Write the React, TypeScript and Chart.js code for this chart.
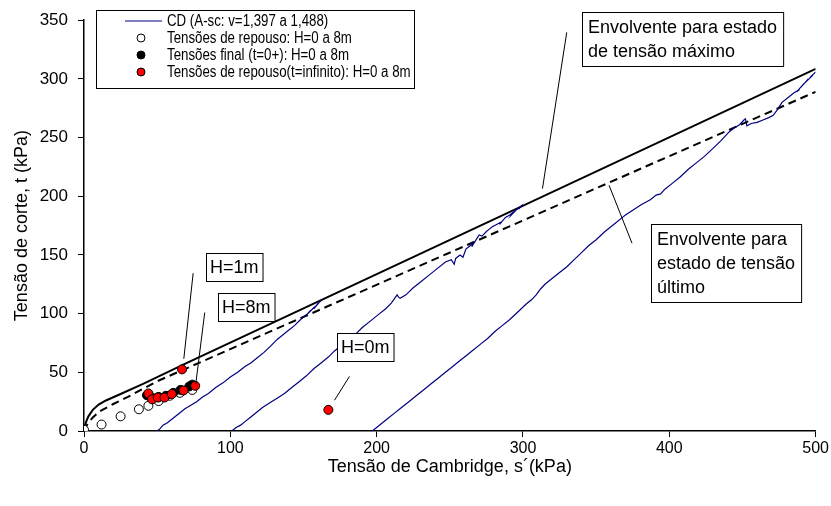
import React, { useEffect, useRef } from "react";
import { Chart, registerables } from "chart.js";

Chart.register(...registerables);

const FONT = "'Liberation Sans', Arial, Helvetica, sans-serif";

// ---- axis ticks ----
const xTicks = [0, 100, 200, 300, 400, 500];
const yTicks = [0, 50, 100, 150, 200, 250, 300, 350];

// ---- envelopes ----
const envMaxS = [0, 0.5, 1.5, 3, 6, 10, 15, 25, 40, 70, 500];
const envMaxT = [0, 4, 8, 12.5, 18, 22.5, 26, 31.5, 40, 57.8, 308.5];
const envUltS = [0, 1, 3, 6, 11, 20, 30, 50, 500];
const envUltT = [0, 3, 7, 11.5, 17, 23, 29, 42.4, 289];

// ---- CD test paths (s', t) ----
const cdPath1: [number, number][] = [
  [50, 0], [52, 2], [54, 5], [57, 7], [60, 10], [63, 13], [66, 16], [69, 19], [73, 22], [77, 25],
  [81, 29], [85, 32], [90, 37], [95, 41], [100, 46], [105, 50], [110, 55], [114, 58], [118, 62],
  [123, 67], [128, 73], [132, 78], [136, 82], [140, 86], [144, 90], [148, 95], [152, 99],
  [155, 103], [153, 100], [157, 105], [159, 107], [157, 104], [160, 109], [162, 111],
];
const cdPath2: [number, number][] = [
  [101, 0], [104, 3], [107, 5], [110, 8], [114, 12], [118, 16], [122, 20], [127, 24], [132, 28],
  [137, 32], [142, 37], [147, 42], [152, 47], [157, 53], [162, 58], [167, 63], [171, 68],
  [176, 73], [181, 78], [186, 83], [190, 88], [195, 93], [199, 97], [202, 100], [206, 104],
  [210, 109], [214, 116], [215, 114], [216, 113], [220, 116], [225, 122], [230, 127], [236, 133],
  [242, 139], [247, 144], [251, 146], [253, 142], [254, 147], [257, 150], [259, 148], [261, 155],
  [263, 157], [266, 160], [265, 157], [268, 163], [270, 167], [272, 166], [275, 170], [277, 172],
  [279, 174], [282, 176], [285, 178], [284, 176], [288, 182], [291, 184], [293, 186], [292, 184],
  [296, 189], [298, 191], [297, 189], [300, 193],
];
const cdPath3: [number, number][] = [
  [197, 0], [200, 3], [204, 7], [208, 11], [212, 15], [217, 20], [222, 25], [227, 30], [232, 35],
  [237, 40], [242, 45], [247, 50], [252, 55], [257, 60], [262, 65], [266, 69], [271, 74],
  [276, 79], [281, 85], [286, 90], [291, 95], [297, 102], [302, 108], [306, 112], [309, 116],
  [312, 121], [315, 125], [319, 129], [322, 132], [325, 135], [330, 140], [335, 146], [340, 152],
  [345, 158], [350, 163], [356, 170], [362, 176], [368, 182], [370, 184], [375, 188], [381, 193],
  [387, 197], [391, 201], [394, 202], [397, 206], [402, 211], [407, 216], [413, 223], [418, 228],
  [424, 234], [430, 241], [435, 247], [438, 251], [441, 255], [444, 258], [448, 261], [451, 265],
  [452, 266], [453, 260], [456, 262], [460, 263], [464, 265], [468, 267], [471, 269], [474, 274],
  [477, 280], [481, 284], [485, 288], [489, 291], [487, 289], [492, 296], [490, 293], [495, 300],
  [493, 297], [498, 303], [496, 301], [500, 306],
];

// ---- stress points ----
const restS = [0, 12, 25, 37.5, 44, 51, 58.5, 65.5, 74];
const restT = [1, 5.5, 12.5, 18.5, 21.5, 25.5, 30, 32.5, 35];
const finalS = [43, 47, 51, 56, 61, 66, 72, 74];
const finalT = [30.5, 28, 29, 30, 32.5, 35, 38, 39.5];
const infS = [44, 46.5, 50.5, 55, 60, 68, 76, 67, 167];
const infT = [32, 27, 28.5, 28.5, 31.5, 34.5, 38.5, 52.5, 18];

// ---- labels ----
const cdLabel = "CD (A-sc: v=1,397 a 1,488)";
const restLabel = "Tensões de repouso: H=0 a 8m";
const finalLabel = "Tensões final (t=0+): H=0 a 8m";
const infLabel = "Tensões de repouso(t=infinito): H=0 a 8m";
const xTitle = "Tensão de Cambridge, s´(kPa)";
const yTitle = "Tensão de corte, t (kPa)";

// ---- annotations: box top-left (data), leader from/to (data) ----
const annotations = [
  { lines: ["Envolvente para estado", "de tensão máximo"], box: [340.3, 356.8], from: [329.9, 339.6], to: [313.3, 206.5] },
  { lines: ["Envolvente para", "estado de tensão", "último"], box: [387.5, 176.7], from: [358.8, 209.4], to: [374.5, 160] },
  { lines: ["H=1m"], box: [83.2, 151.3], from: [74.6, 134.5], to: [68.2, 61.5] },
  { lines: ["H=8m"], box: [91.4, 117.5], from: [82.5, 100.9], to: [76.4, 40.3] },
  { lines: ["H=0m"], box: [172.6, 83.7], from: [181.4, 46.5], to: [171.2, 26.2] },
];

const BLUE = "#000080";

const pts = (s: number[], t: number[]) => s.map((v, i) => ({ x: v, y: t[i] }));
const pathPts = (p: [number, number][]) => p.map(([x, y]) => ({ x, y }));

const overlayPlugin = {
  id: "overlay",
  afterDraw(chart: any) {
    const ctx = chart.ctx as CanvasRenderingContext2D;
    const xs = chart.scales.x;
    const ys = chart.scales.y;
    ctx.save();
    // annotations
    ctx.font = `18px ${FONT}`;
    for (const a of annotations) {
      ctx.beginPath();
      ctx.moveTo(xs.getPixelForValue(a.from[0]), ys.getPixelForValue(a.from[1]));
      ctx.lineTo(xs.getPixelForValue(a.to[0]), ys.getPixelForValue(a.to[1]));
      ctx.strokeStyle = "#000";
      ctx.lineWidth = 1;
      ctx.stroke();
      const bx = Math.round(xs.getPixelForValue(a.box[0]));
      const by = Math.round(ys.getPixelForValue(a.box[1]));
      const lh = 24;
      const padX = a.lines.length === 1 ? 4 : 6;
      const padY = a.lines.length === 1 ? 2 : 3;
      const w = Math.max(...a.lines.map((l) => ctx.measureText(l).width)) + padX * 2;
      const h = a.lines.length * lh + padY * 2;
      ctx.fillStyle = "#fff";
      ctx.fillRect(bx, by, w, h);
      ctx.strokeRect(bx + 0.5, by + 0.5, w, h);
      ctx.fillStyle = "#000";
      ctx.textBaseline = "middle";
      ctx.textAlign = "left";
      a.lines.forEach((l, i) => ctx.fillText(l, bx + padX, by + padY + lh * (i + 0.5) + 1));
    }
    // legend
    const lx = 96, ly = 10, lw = 318, lhgt = 78;
    ctx.fillStyle = "#fff";
    ctx.fillRect(lx, ly, lw, lhgt);
    ctx.strokeStyle = "#000";
    ctx.lineWidth = 1;
    ctx.strokeRect(lx + 0.5, ly + 0.5, lw, lhgt);
    const rows = [21, 38, 55, 72];
    const labels = [chart.data.datasets[2].label, chart.data.datasets[3].label, chart.data.datasets[4].label, chart.data.datasets[5].label];
    ctx.beginPath();
    ctx.moveTo(125, rows[0]);
    ctx.lineTo(162, rows[0]);
    ctx.strokeStyle = BLUE;
    ctx.lineWidth = 1.2;
    ctx.stroke();
    const fills = ["#fff", "#000", "#ff0000"];
    for (let i = 0; i < 3; i++) {
      ctx.beginPath();
      ctx.arc(141, rows[i + 1], 4, 0, Math.PI * 2);
      ctx.fillStyle = fills[i];
      ctx.fill();
      ctx.strokeStyle = "#000";
      ctx.lineWidth = 1;
      ctx.stroke();
    }
    ctx.fillStyle = "#000";
    ctx.font = `16px ${FONT}`;
    ctx.textBaseline = "middle";
    labels.forEach((l: string, i: number) => {
      ctx.save();
      ctx.translate(167, rows[i] + 1);
      ctx.scale(0.83, 1);
      ctx.fillText(l, 0, 0);
      ctx.restore();
    });
    ctx.restore();
  },
};

export default function App() {
  const ref = useRef<HTMLCanvasElement>(null);
  useEffect(() => {
    document.body.style.margin = "0";
    const chart = new Chart(ref.current as HTMLCanvasElement, {
      type: "scatter",
      data: {
        datasets: [
          { label: "max", data: pts(envMaxS, envMaxT), showLine: true, borderColor: "#000", borderWidth: 2, pointRadius: 0, order: 5 } as any,
          { label: "ult", data: pts(envUltS, envUltT), showLine: true, borderColor: "#000", borderWidth: 2, borderDash: [8, 5], pointRadius: 0, order: 5 } as any,
          { label: cdLabel, data: pathPts(cdPath1), showLine: true, borderColor: BLUE, borderWidth: 1.2, pointRadius: 0, order: 4 } as any,
          { label: restLabel, data: pts(restS, restT), backgroundColor: "#fff", borderColor: "#000", borderWidth: 1, pointRadius: 4.5, order: 2 } as any,
          { label: finalLabel, data: pts(finalS, finalT), backgroundColor: "#000", borderColor: "#000", borderWidth: 1, pointRadius: 4.5, order: 1 } as any,
          { label: infLabel, data: pts(infS, infT), backgroundColor: "#ff0000", borderColor: "#000", borderWidth: 1, pointRadius: 4.5, order: 0 } as any,
          { label: cdLabel, data: pathPts(cdPath2), showLine: true, borderColor: BLUE, borderWidth: 1.2, pointRadius: 0, order: 4 } as any,
          { label: cdLabel, data: pathPts(cdPath3), showLine: true, borderColor: BLUE, borderWidth: 1.2, pointRadius: 0, order: 4 } as any,
        ],
      },
      options: {
        responsive: false,
        animation: false,
        devicePixelRatio: 1,
        layout: { padding: { top: 17, right: 14, left: 0, bottom: 0 } },
        plugins: { legend: { display: false }, tooltip: { enabled: false } },
        elements: { line: { tension: 0 } },
        scales: {
          x: {
            type: "linear",
            min: 0,
            max: 500,
            afterBuildTicks: (s: any) => { s.ticks = xTicks.map((v) => ({ value: v })); },
            afterFit: (s: any) => { s.height = 75; },
            ticks: { font: { family: FONT, size: 16 }, color: "#000", padding: 2, maxRotation: 0 },
            grid: { display: true, drawOnChartArea: false, drawTicks: true, tickLength: 6, color: "#000", lineWidth: 1 },
            border: { display: true, color: "#000", width: 1.5 },
            title: { display: true, text: xTitle, font: { family: FONT, size: 18 }, color: "#000", padding: { top: 0, bottom: 28 } },
          },
          y: {
            type: "linear",
            min: 0,
            max: 350,
            afterBuildTicks: (s: any) => { s.ticks = yTicks.map((v) => ({ value: v })); },
            afterFit: (s: any) => { s.width = 84; },
            ticks: { font: { family: FONT, size: 17 }, color: "#000", padding: 10 },
            grid: { display: true, drawOnChartArea: false, drawTicks: true, tickLength: 6, color: "#000", lineWidth: 1 },
            border: { display: true, color: "#000", width: 1.5 },
            title: { display: true, text: yTitle, font: { family: FONT, size: 18 }, color: "#000", padding: { top: 11, bottom: 0 } },
          },
        },
      } as any,
      plugins: [overlayPlugin],
    });
    return () => chart.destroy();
  }, []);
  return (
    <div style={{ position: "absolute", left: 0, top: 0, width: 831, height: 506 }}>
      <canvas ref={ref} width={831} height={506} style={{ display: "block" }} />
    </div>
  );
}
